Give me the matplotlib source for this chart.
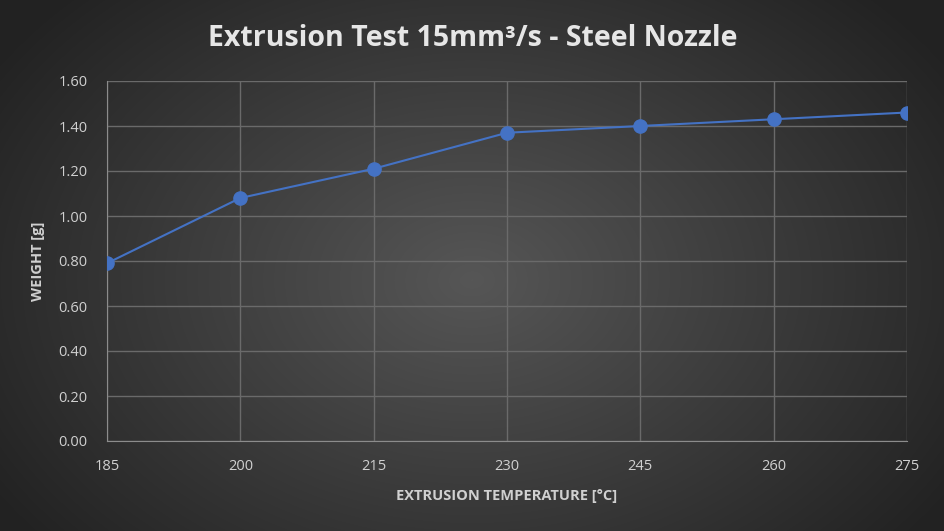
import numpy as np
import matplotlib.pyplot as plt

temps = [185, 200, 215, 230, 245, 260, 275]
weights = [0.79, 1.08, 1.21, 1.37, 1.40, 1.43, 1.46]
yticks = [0.0, 0.2, 0.4, 0.6, 0.8, 1.0, 1.2, 1.4, 1.6]

plt.rcParams['font.family'] = ['Open Sans', 'DejaVu Sans']

fig = plt.figure(figsize=(9.45, 5.31), dpi=100)

# radial gradient background
bg = fig.add_axes([0, 0, 1, 1])
yy, xx = np.mgrid[0:531, 0:945]
r = np.sqrt(((xx - 472) / 560.0) ** 2 + ((yy - 280) / 400.0) ** 2)
r = np.clip(r, 0, 1)
val = 0.34 - 0.20 * r
bg.imshow(val, cmap='gray', vmin=0, vmax=1, aspect='auto', extent=[0, 1, 0, 1])
bg.axis("off")

ax = fig.add_axes([107 / 945, 1 - 441 / 531, 800 / 945, 360 / 531])
ax.patch.set_alpha(0)
ax.plot(temps, weights, color='#4472C4', lw=1.5, marker='o', markersize=9.5,
        markerfacecolor='#4472C4', markeredgecolor='#4472C4', zorder=3)

ax.set_xlim(185, 275)
ax.set_ylim(0, 1.6)
ax.set_xticks(temps)
ax.set_yticks(yticks)
ax.set_yticklabels([f"{v:.2f}" for v in yticks])
ax.grid(True, color='#6a6a6a', lw=1)
ax.tick_params(colors='#d0d0d0', labelsize=10.5, length=0, pad=13)
ax.tick_params(axis='y', pad=14)
for s in ['top', 'right']:
    ax.spines[s].set_visible(False)
ax.spines['left'].set_color('#8c8c8c')
ax.spines['bottom'].set_color('#8c8c8c')

ax.set_xlabel("EXTRUSION TEMPERATURE [°C]", color='#d0d0d0', fontsize=10.5,
              fontweight='bold', labelpad=11)
ax.set_ylabel("WEIGHT [g]", color='#d0d0d0', fontsize=10.5, fontweight='bold',
              labelpad=10)

fig.text(0.5, 1 - 38 / 531, "Extrusion Test 15mm³/s - Steel Nozzle",
         ha='center', va='center', color='#e6e6e6', fontsize=20.5,
         fontweight='bold')

fig.savefig("out.png", dpi=100)
